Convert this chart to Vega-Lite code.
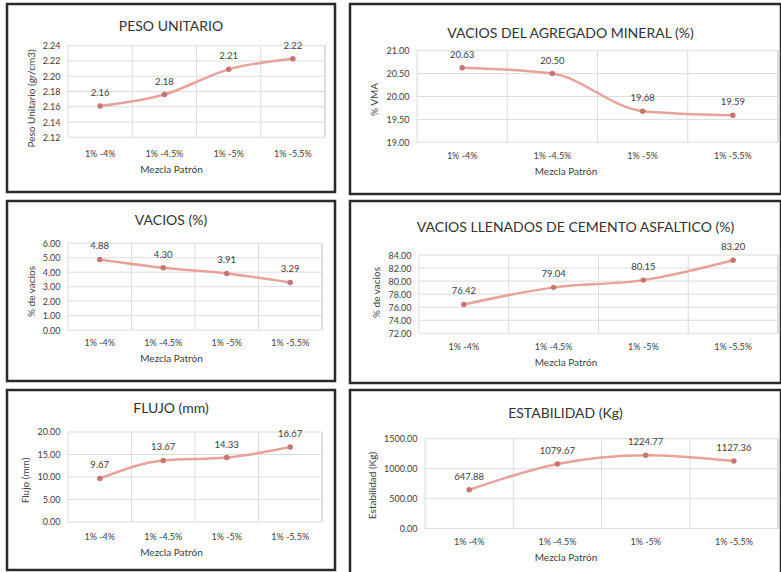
{
  "$schema": "https://vega.github.io/schema/vega-lite/v6.json",
  "background": "white",
  "padding": {"left": 5, "top": 2, "right": 0, "bottom": 0},
  "spacing": 3,
  "config": {
    "font": "Lato",
    "view": {"stroke": "#2a2a2a", "strokeWidth": 2.5, "fill": "white"},
    "title": {"fontSize": 14, "fontWeight": "normal", "color": "#333333", "anchor": "middle", "frame": "group"},
    "axis": {"domain": false, "ticks": false, "grid": false, "labelOverlap": false, "labelFontSize": 9, "labelColor": "#404040", "titleFontSize": 10, "titleFontWeight": "normal", "titleColor": "#404040"},
    "axisX": {"labelAngle": 0},
    "line": {"color": "#e8a29c", "strokeWidth": 2.5, "interpolate": "monotone"},
    "point": {"color": "#c8756f", "filled": true, "size": 30, "opacity": 1},
    "text": {"fontSize": 9.5, "color": "#404040", "dy": -13},
    "rule": {"color": "#dcdcdc", "strokeWidth": 1}
  },
  "vconcat": [
    {
      "spacing": 11,
      "hconcat": [
        {
          "width": 328, "height": 188,
          "title": {"text": "PESO UNITARIO", "offset": -30},
          "data": {"values": [
            {"mezcla": "1% -4%", "valor": 2.161},
            {"mezcla": "1% -4.5%", "valor": 2.176},
            {"mezcla": "1% -5%", "valor": 2.209},
            {"mezcla": "1% -5.5%", "valor": 2.223}
          ]},
          "encoding": {
            "x": {"field": "mezcla", "type": "ordinal", "sort": null,
              "scale": {"type": "band", "paddingInner": 0, "paddingOuter": 0.553, "align": 0.859},
              "axis": {"title": "Mezcla Patrón", "offset": -55, "labelPadding": 12, "titlePadding": 6}}
          },
          "layer": [
            {"mark": "rule", "encoding": {"x": {"field": "mezcla", "type": "ordinal", "bandPosition": 0}, "y": {"datum": 2.12, "type": "quantitative"}, "y2": {"datum": 2.24}}},
            {"mark": "rule", "encoding": {"x": {"datum": "1% -5.5%", "type": "ordinal", "bandPosition": 1}, "y": {"datum": 2.12, "type": "quantitative"}, "y2": {"datum": 2.24}}},
            {"data": {"values": [{"t": 2.12}, {"t": 2.14}, {"t": 2.16}, {"t": 2.18}, {"t": 2.2}, {"t": 2.22}, {"t": 2.24}]},
             "mark": "rule",
             "encoding": {"y": {"field": "t", "type": "quantitative"}, "x": {"datum": "1% -4%", "type": "ordinal", "bandPosition": 0}, "x2": {"datum": "1% -5.5%", "bandPosition": 1}}},
            {"mark": "line", "encoding": {"y": {"field": "valor", "type": "quantitative",
              "scale": {"domain": [2.0483, 2.2946], "zero": false, "nice": false},
              "axis": {"title": "Peso Unitario (gr/cm3)", "values": [2.12, 2.14, 2.16, 2.18, 2.2, 2.22, 2.24], "tickCount": 20, "format": ".2f", "labelOverlap": false, "offset": -61, "labelPadding": 8, "titlePadding": 6}}}},
            {"mark": "point", "encoding": {"y": {"field": "valor", "type": "quantitative"}}},
            {"mark": "text", "encoding": {"y": {"field": "valor", "type": "quantitative"}, "text": {"field": "valor", "format": ".2f"}}}
          ]
        },
        {
          "width": 431, "height": 190,
          "title": {"text": "VACIOS DEL AGREGADO MINERAL (%)", "offset": -37, "dx": 5},
          "data": {"values": [
            {"mezcla": "1% -4%", "valor": 20.63},
            {"mezcla": "1% -4.5%", "valor": 20.50},
            {"mezcla": "1% -5%", "valor": 19.68},
            {"mezcla": "1% -5.5%", "valor": 19.59}
          ]},
          "encoding": {
            "x": {"field": "mezcla", "type": "ordinal", "sort": null,
              "scale": {"type": "band", "paddingInner": 0, "paddingOuter": 0.388, "align": 0.957},
              "axis": {"title": "Mezcla Patrón", "offset": -52, "labelPadding": 9.5, "titlePadding": 6}}
          },
          "layer": [
            {"mark": "rule", "encoding": {"x": {"field": "mezcla", "type": "ordinal", "bandPosition": 0}, "y": {"datum": 19, "type": "quantitative"}, "y2": {"datum": 21}}},
            {"mark": "rule", "encoding": {"x": {"datum": "1% -5.5%", "type": "ordinal", "bandPosition": 1}, "y": {"datum": 19, "type": "quantitative"}, "y2": {"datum": 21}}},
            {"data": {"values": [{"t": 19}, {"t": 19.5}, {"t": 20}, {"t": 20.5}, {"t": 21}]},
             "mark": "rule",
             "encoding": {"y": {"field": "t", "type": "quantitative"}, "x": {"datum": "1% -4%", "type": "ordinal", "bandPosition": 0}, "x2": {"datum": "1% -5.5%", "bandPosition": 1}}},
            {"mark": "line", "encoding": {"y": {"field": "valor", "type": "quantitative",
              "scale": {"domain": [17.871, 22.02], "zero": false, "nice": false},
              "axis": {"title": "% VMA", "values": [19, 19.5, 20, 20.5, 21], "tickCount": 20, "format": ".2f", "labelOverlap": false, "offset": -67, "labelPadding": 8, "titlePadding": 6}}}},
            {"mark": "point", "encoding": {"y": {"field": "valor", "type": "quantitative"}}},
            {"mark": "text", "encoding": {"y": {"field": "valor", "type": "quantitative"}, "text": {"field": "valor", "format": ".2f"}}}
          ]
        }
      ]
    },
    {
      "spacing": 11,
      "hconcat": [
        {
          "width": 328, "height": 180,
          "title": {"text": "VACIOS (%)", "offset": -27},
          "data": {"values": [
            {"mezcla": "1% -4%", "valor": 4.88},
            {"mezcla": "1% -4.5%", "valor": 4.30},
            {"mezcla": "1% -5%", "valor": 3.91},
            {"mezcla": "1% -5.5%", "valor": 3.29}
          ]},
          "encoding": {
            "x": {"field": "mezcla", "type": "ordinal", "sort": null,
              "scale": {"type": "band", "paddingInner": 0, "paddingOuter": 0.583, "align": 0.824},
              "axis": {"title": "Mezcla Patrón", "offset": -51, "labelPadding": 8.5, "titlePadding": 6}}
          },
          "layer": [
            {"mark": "rule", "encoding": {"x": {"field": "mezcla", "type": "ordinal", "bandPosition": 0}, "y": {"datum": 0, "type": "quantitative"}, "y2": {"datum": 6}}},
            {"mark": "rule", "encoding": {"x": {"datum": "1% -5.5%", "type": "ordinal", "bandPosition": 1}, "y": {"datum": 0, "type": "quantitative"}, "y2": {"datum": 6}}},
            {"data": {"values": [{"t": 0}, {"t": 1}, {"t": 2}, {"t": 3}, {"t": 4}, {"t": 5}, {"t": 6}]},
             "mark": "rule",
             "encoding": {"y": {"field": "t", "type": "quantitative"}, "x": {"datum": "1% -4%", "type": "ordinal", "bandPosition": 0}, "x2": {"datum": "1% -5.5%", "bandPosition": 1}}},
            {"mark": "line", "encoding": {"y": {"field": "valor", "type": "quantitative",
              "scale": {"domain": [-3.517, 8.917], "zero": false, "nice": false},
              "axis": {"title": "% de vacios", "values": [0, 1, 2, 3, 4, 5, 6], "tickCount": 20, "format": ".2f", "labelOverlap": false, "offset": -61, "labelPadding": 8, "titlePadding": 6}}}},
            {"mark": "point", "encoding": {"y": {"field": "valor", "type": "quantitative"}}},
            {"mark": "text", "encoding": {"y": {"field": "valor", "type": "quantitative"}, "text": {"field": "valor", "format": ".2f"}}}
          ]
        },
        {
          "width": 431, "height": 182,
          "title": {"text": "VACIOS LLENADOS DE CEMENTO ASFALTICO (%)", "offset": -34, "dx": 10},
          "data": {"values": [
            {"mezcla": "1% -4%", "valor": 76.42},
            {"mezcla": "1% -4.5%", "valor": 79.04},
            {"mezcla": "1% -5%", "valor": 80.15},
            {"mezcla": "1% -5.5%", "valor": 83.20}
          ]},
          "encoding": {
            "x": {"field": "mezcla", "type": "ordinal", "sort": null,
              "scale": {"type": "band", "paddingInner": 0, "paddingOuter": 0.401, "align": 0.958},
              "axis": {"title": "Mezcla Patrón", "offset": -50, "labelPadding": 9.5, "titlePadding": 6}}
          },
          "layer": [
            {"mark": "rule", "encoding": {"x": {"field": "mezcla", "type": "ordinal", "bandPosition": 0}, "y": {"datum": 72, "type": "quantitative"}, "y2": {"datum": 84}}},
            {"mark": "rule", "encoding": {"x": {"datum": "1% -5.5%", "type": "ordinal", "bandPosition": 1}, "y": {"datum": 72, "type": "quantitative"}, "y2": {"datum": 84}}},
            {"data": {"values": [{"t": 72}, {"t": 74}, {"t": 76}, {"t": 78}, {"t": 80}, {"t": 82}, {"t": 84}]},
             "mark": "rule",
             "encoding": {"y": {"field": "t", "type": "quantitative"}, "x": {"datum": "1% -4%", "type": "ordinal", "bandPosition": 0}, "x2": {"datum": "1% -5.5%", "bandPosition": 1}}},
            {"mark": "line", "encoding": {"y": {"field": "valor", "type": "quantitative",
              "scale": {"domain": [64.383, 92.276], "zero": false, "nice": false},
              "axis": {"title": "% de vacios", "values": [72, 74, 76, 78, 80, 82, 84], "tickCount": 20, "format": ".2f", "labelOverlap": false, "offset": -69, "labelPadding": 8, "titlePadding": 6}}}},
            {"mark": "point", "encoding": {"y": {"field": "valor", "type": "quantitative"}}},
            {"mark": "text", "encoding": {"y": {"field": "valor", "type": "quantitative"}, "text": {"field": "valor", "format": ".2f"}}}
          ]
        }
      ]
    },
    {
      "spacing": 11,
      "hconcat": [
        {
          "width": 328, "height": 180,
          "title": {"text": "FLUJO (mm)", "offset": -26},
          "data": {"values": [
            {"mezcla": "1% -4%", "valor": 9.67},
            {"mezcla": "1% -4.5%", "valor": 13.67},
            {"mezcla": "1% -5%", "valor": 14.33},
            {"mezcla": "1% -5.5%", "valor": 16.67}
          ]},
          "encoding": {
            "x": {"field": "mezcla", "type": "ordinal", "sort": null,
              "scale": {"type": "band", "paddingInner": 0, "paddingOuter": 0.583, "align": 0.824},
              "axis": {"title": "Mezcla Patrón", "offset": -48, "labelPadding": 10.5, "titlePadding": 6}}
          },
          "layer": [
            {"mark": "rule", "encoding": {"x": {"field": "mezcla", "type": "ordinal", "bandPosition": 0}, "y": {"datum": 0, "type": "quantitative"}, "y2": {"datum": 20}}},
            {"mark": "rule", "encoding": {"x": {"datum": "1% -5.5%", "type": "ordinal", "bandPosition": 1}, "y": {"datum": 0, "type": "quantitative"}, "y2": {"datum": 20}}},
            {"data": {"values": [{"t": 0}, {"t": 5}, {"t": 10}, {"t": 15}, {"t": 20}]},
             "mark": "rule",
             "encoding": {"y": {"field": "t", "type": "quantitative"}, "x": {"datum": "1% -4%", "type": "ordinal", "bandPosition": 0}, "x2": {"datum": "1% -5.5%", "bandPosition": 1}}},
            {"mark": "line", "encoding": {"y": {"field": "valor", "type": "quantitative",
              "scale": {"domain": [-10.667, 29.333], "zero": false, "nice": false},
              "axis": {"title": "Flujo (mm)", "values": [0, 5, 10, 15, 20], "tickCount": 20, "format": ".2f", "labelOverlap": false, "offset": -61, "labelPadding": 8, "titlePadding": 6}}}},
            {"mark": "point", "encoding": {"y": {"field": "valor", "type": "quantitative"}}},
            {"mark": "text", "encoding": {"y": {"field": "valor", "type": "quantitative"}, "text": {"field": "valor", "format": ".2f"}}}
          ]
        },
        {
          "width": 431, "height": 190,
          "title": {"text": "ESTABILIDAD (Kg)", "offset": -31},
          "data": {"values": [
            {"mezcla": "1% -4%", "valor": 647.88},
            {"mezcla": "1% -4.5%", "valor": 1079.67},
            {"mezcla": "1% -5%", "valor": 1224.77},
            {"mezcla": "1% -5.5%", "valor": 1127.36}
          ]},
          "encoding": {
            "x": {"field": "mezcla", "type": "ordinal", "sort": null,
              "scale": {"type": "band", "paddingInner": 0, "paddingOuter": 0.442, "align": 0.962},
              "axis": {"title": "Mezcla Patrón", "offset": -51, "labelPadding": 8.5, "titlePadding": 6}}
          },
          "layer": [
            {"mark": "rule", "encoding": {"x": {"field": "mezcla", "type": "ordinal", "bandPosition": 0}, "y": {"datum": 0, "type": "quantitative"}, "y2": {"datum": 1500}}},
            {"mark": "rule", "encoding": {"x": {"datum": "1% -5.5%", "type": "ordinal", "bandPosition": 1}, "y": {"datum": 0, "type": "quantitative"}, "y2": {"datum": 1500}}},
            {"data": {"values": [{"t": 0}, {"t": 500}, {"t": 1000}, {"t": 1500}]},
             "mark": "rule",
             "encoding": {"y": {"field": "t", "type": "quantitative"}, "x": {"datum": "1% -4%", "type": "ordinal", "bandPosition": 0}, "x2": {"datum": "1% -5.5%", "bandPosition": 1}}},
            {"mark": "line", "encoding": {"y": {"field": "valor", "type": "quantitative",
              "scale": {"domain": [-855, 2311.7], "zero": false, "nice": false},
              "axis": {"title": "Estabilidad (Kg)", "values": [0, 500, 1000, 1500], "tickCount": 20, "format": ".2f", "labelOverlap": false, "offset": -75, "labelPadding": 8, "titlePadding": 6}}}},
            {"mark": "point", "encoding": {"y": {"field": "valor", "type": "quantitative"}}},
            {"mark": "text", "encoding": {"y": {"field": "valor", "type": "quantitative"}, "text": {"field": "valor", "format": ".2f"}}}
          ]
        }
      ]
    }
  ]
}
